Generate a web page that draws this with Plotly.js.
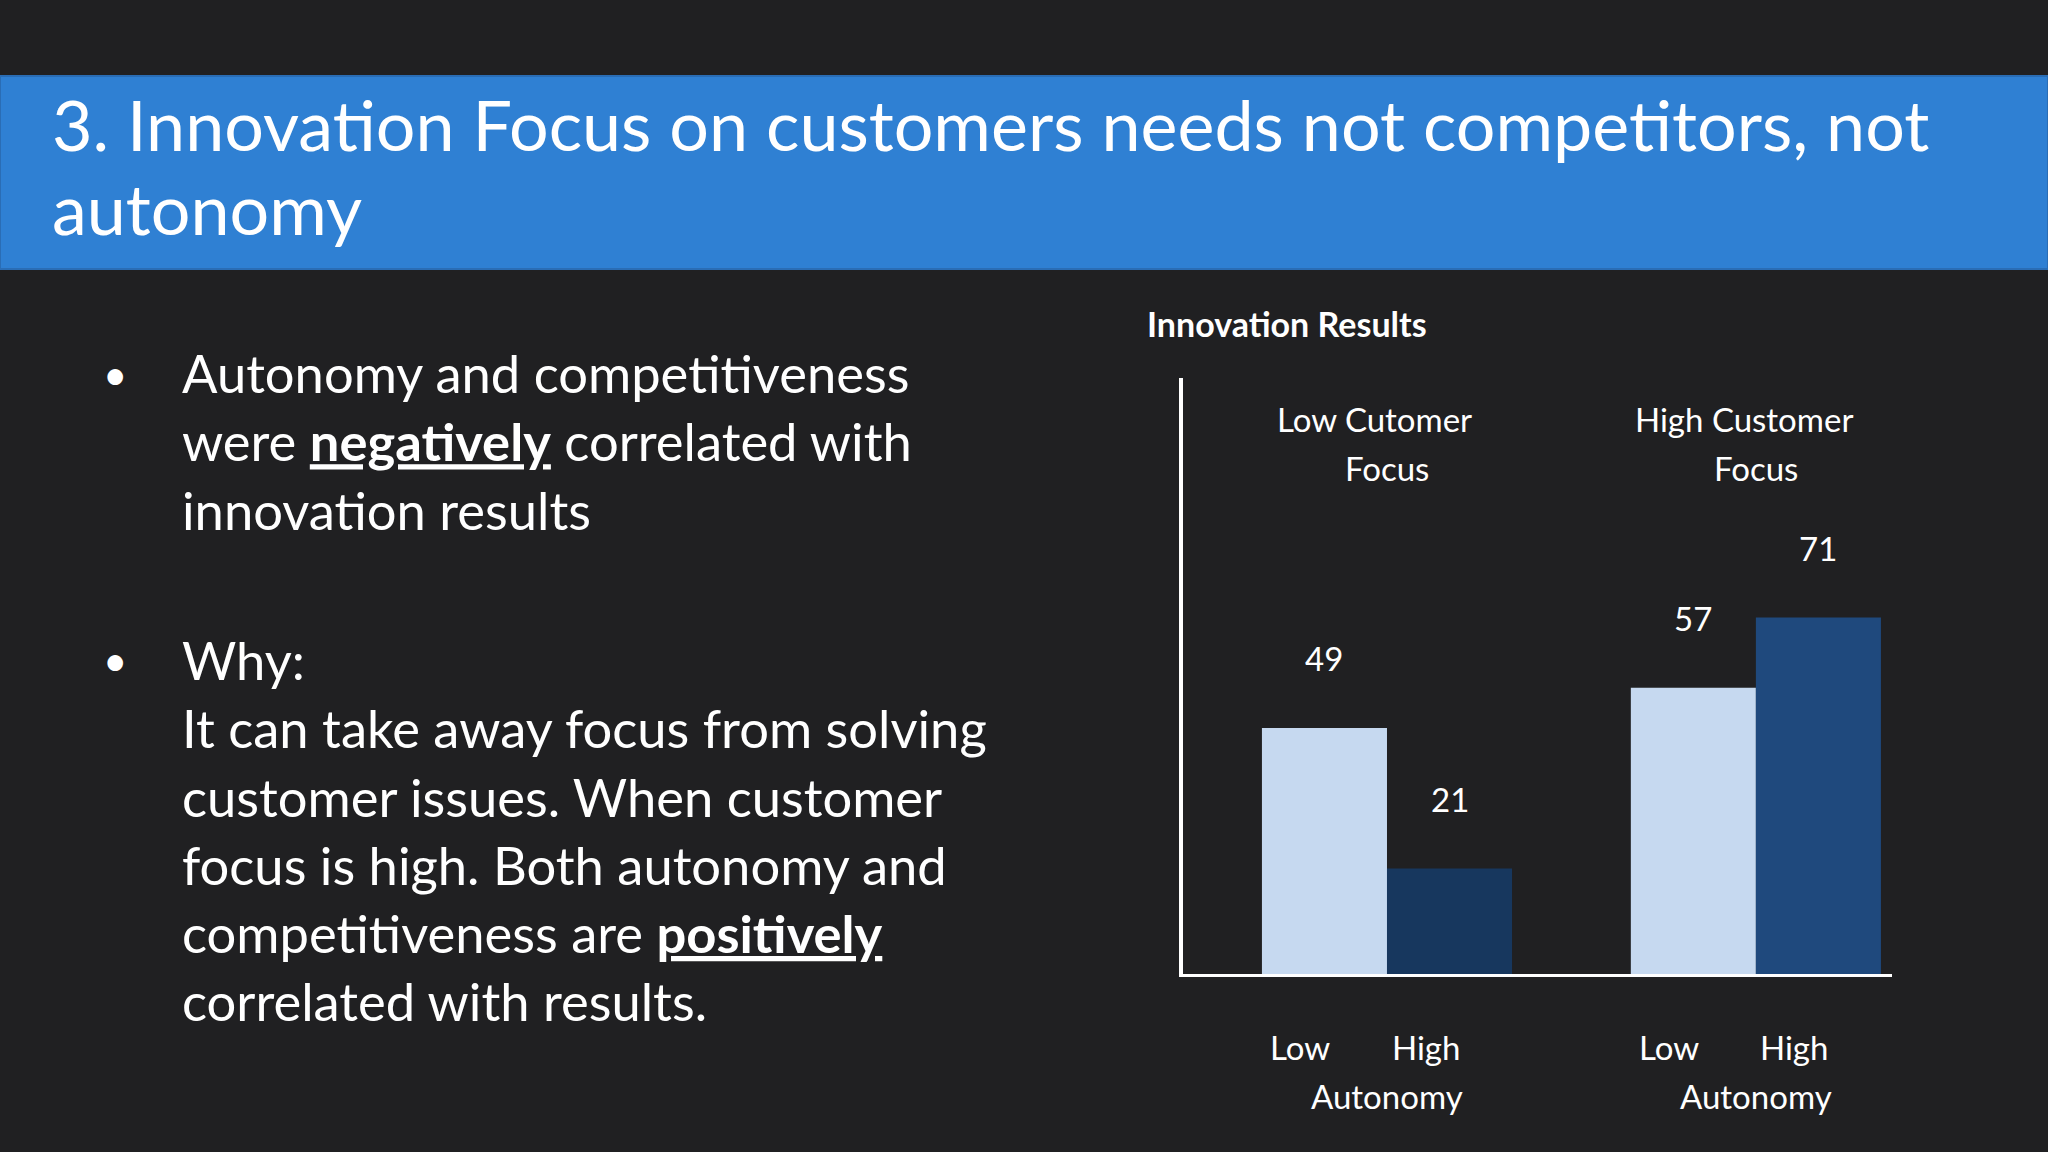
<!DOCTYPE html>
<html><head><meta charset="utf-8">
<script src="https://cdn.plot.ly/plotly-3.0.1.min.js"></script>
<style>html,body{margin:0;padding:0;background:#202022;overflow:hidden}#chart{width:2048px;height:1152px}</style>
</head><body><div id="chart"></div>
<script>
// ---- data ----
const groupKeys = ["Low Cutomer Focus", "High Customer Focus"];
const groupHeaders = [["Low Cutomer", "Focus"], ["High Customer", "Focus"]];
const autonomyLevels = ["Low", "High"];
const lowAutonomy = [49, 57];
const highAutonomy = [21, 71];
const autonomyCaption = "Autonomy";
const chartTitle = "Innovation Results";
const slideTitleLines = ["3. Innovation Focus on customers needs not competitors, not", "autonomy"];
const bullet1 = "Autonomy and competitiveness<br>were <b><u>negatively</u></b> correlated with<br>innovation results";
const bullet2 = "Why:<br>It can take away focus from solving<br>customer issues. When customer<br>focus is high. Both autonomy and<br>competitiveness are <b><u>positively</u></b><br>correlated with results.";

// ---- styles ----
const W = 2048, H = 1152;
const bg = "#202022";
const lightBlue = "#C6D9F0";
const darkBlues = ["#17375E", "#1F497D"];
const bargap = 0.322;
const half = (1 - bargap) / 4;
const px = v => v / W;
const py = v => 1 - v / H;
const bodyFont = {family: "Lato, 'Open Sans', sans-serif", color: "#FFFFFF"};
const font = s => Object.assign({}, bodyFont, {size: s});

const traces = [
  {type: "bar", x: groupKeys, y: lowAutonomy, name: autonomyLevels[0],
   marker: {color: lightBlue, line: {width: 0}}, hoverinfo: "none", showlegend: false},
  {type: "bar", x: groupKeys, y: highAutonomy, name: autonomyLevels[1],
   marker: {color: darkBlues, line: {width: 0}}, hoverinfo: "none", showlegend: false}
];

const ann = [];
const chartFont = font(33);
// slide title
slideTitleLines.forEach((t, k) => {
  ann.push({xref: "paper", yref: "paper", x: px(50), y: py(124 + k * 84), xanchor: "left", yanchor: "middle",
    align: "left", showarrow: false, text: t, font: font(70)});
});
// bullets
ann.push({xref: "paper", yref: "paper", x: px(115), y: py(374), xanchor: "center", yanchor: "middle",
  showarrow: false, text: "•", font: font(42)});
ann.push({xref: "paper", yref: "paper", x: px(180), y: py(441), xanchor: "left", yanchor: "middle",
  align: "left", showarrow: false, text: bullet1, font: font(52.5)});
ann.push({xref: "paper", yref: "paper", x: px(115), y: py(660), xanchor: "center", yanchor: "middle",
  showarrow: false, text: "•", font: font(42)});
ann.push({xref: "paper", yref: "paper", x: px(180), y: py(830), xanchor: "left", yanchor: "middle",
  align: "left", showarrow: false, text: bullet2, font: font(52.5)});
// chart title
ann.push({xref: "paper", yref: "paper", x: px(1145), y: py(323), xanchor: "left", yanchor: "middle",
  showarrow: false, text: "<b>" + chartTitle + "</b>", font: font(34)});
// group headers
groupHeaders.forEach((lines, i) => {
  lines.forEach((t, k) => {
    ann.push({xref: "x", yref: "paper", x: i, xshift: k === 0 ? -12 : 0, y: py(419 + k * 49),
      xanchor: "center", yanchor: "middle", showarrow: false, text: t, font: chartFont});
  });
});
// value labels
[lowAutonomy, highAutonomy].forEach((series, j) => {
  series.forEach((v, i) => {
    ann.push({xref: "x", yref: "y", x: i + (j === 0 ? -half : half), y: v, yshift: 70,
      xanchor: "center", yanchor: "middle", showarrow: false, text: String(v), font: chartFont});
  });
});
// autonomy labels under bars
groupKeys.forEach((g, i) => {
  autonomyLevels.forEach((lv, j) => {
    ann.push({xref: "x", yref: "paper", x: i + (j === 0 ? -half : half), xshift: -24, y: py(1047),
      xanchor: "center", yanchor: "middle", showarrow: false, text: lv, font: chartFont});
  });
  ann.push({xref: "x", yref: "paper", x: i, y: py(1096), xanchor: "center", yanchor: "middle",
    showarrow: false, text: autonomyCaption, font: chartFont});
});

const layout = {
  width: W, height: H,
  margin: {l: 0, r: 0, t: 0, b: 0, pad: 0},
  paper_bgcolor: bg, plot_bgcolor: "rgba(0,0,0,0)",
  barmode: "group", bargap: bargap, bargroupgap: 0,
  xaxis: {domain: [px(1183), px(1892)], range: [-0.553, 1.369], showline: true, linecolor: "#FFFFFF",
    linewidth: 3, showticklabels: false, showgrid: false, zeroline: false, ticks: "", fixedrange: true},
  yaxis: {domain: [py(974), py(378)], range: [0, 118.7], showline: true, linecolor: "#FFFFFF",
    linewidth: 4, showticklabels: false, showgrid: false, zeroline: false, ticks: "", fixedrange: true},
  shapes: [
    {type: "rect", xref: "paper", yref: "paper", x0: 0, x1: 1, y0: py(269), y1: py(76),
     fillcolor: "#2F80D3", line: {color: "#2A6DB5", width: 2}, layer: "below"}
  ],
  annotations: ann,
  showlegend: false
};

Plotly.newPlot("chart", traces, layout, {staticPlot: true, displayModeBar: false});
</script></body></html>
